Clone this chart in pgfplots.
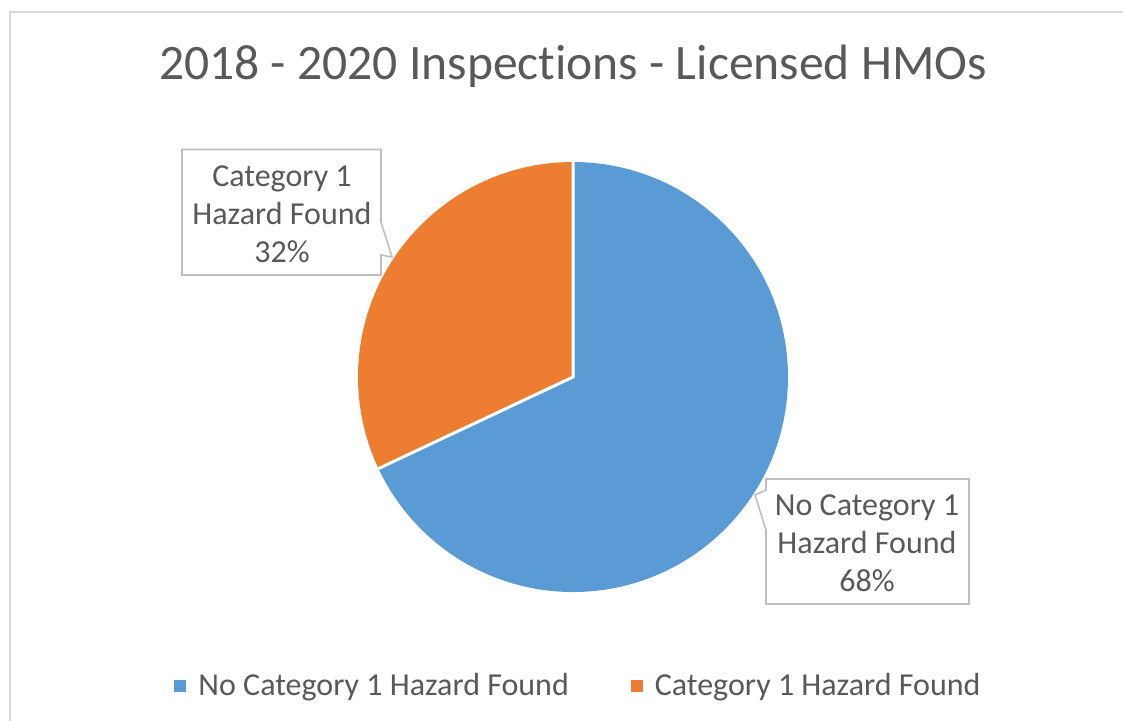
\documentclass[border=0pt]{standalone}
\usepackage{pgfplots}
\usepackage{pgfplotstable}
\pgfplotsset{compat=1.18}
\usepackage{fontspec}
\setmainfont{Carlito}[Ligatures=NoCommon]
\definecolor{pieblue}{HTML}{5B9BD5}
\definecolor{pieorange}{HTML}{ED7D31}
\definecolor{txt}{HTML}{595959}
\definecolor{framec}{HTML}{D9D9D9}
\definecolor{calloutc}{HTML}{BFBFBF}
\pgfplotstableread{
idx value
0 68
1 32
}\piedata
\begin{document}
\begin{tikzpicture}
\pgfplotstablegetelem{0}{value}\of\piedata \edef\va{\pgfplotsretval}
\pgfplotstablegetelem{1}{value}\of\piedata \edef\vb{\pgfplotsretval}
\pgfmathsetmacro\angB{90+3.6*\vb}
\pgfmathsetmacro\angBneg{\angB-360}
\pgfmathsetmacro\cB{cos(\angB)}
\pgfmathsetmacro\sB{sin(\angB)}
\begin{scope}[x=0.5pt,y=-0.5pt]
\useasboundingbox (0,0) rectangle (1123,720);
\fill[white] (0,0) rectangle (1123,720);
\draw[framec, line width=1pt] (9.5,725) -- (9.5,11.5) -- (1130,11.5);
\node[text=txt, anchor=base, inner sep=0pt, font=\fontsize{24.8}{29}\selectfont] at (573,79) {2018 - 2020 Inspections - Licensed HMOs};
\end{scope}
\begin{axis}[at={(286.5pt,-188.5pt)}, anchor=center, scale only axis,
  width=215pt, height=215pt, xmin=-1, xmax=1, ymin=-1, ymax=1,
  hide axis, clip=false,
  legend columns=2,
  legend style={at={(0.515,-0.219)}, anchor=center, draw=none, fill=none,
    font=\fontsize{16}{19}\selectfont, text=txt,
    /tikz/every even column/.append style={column sep=29pt}},
  legend image code/.code={\fill[#1, draw=none] (0pt,-3pt) rectangle (6pt,3pt); \path[draw=none, fill=none] (0pt,0pt) -- (10pt,0pt);},
]
\fill[pieblue] (axis cs:0,0) -- (axis cs:0,1) arc[start angle=90, end angle=\angBneg, radius=107.5pt] -- cycle;
\fill[pieorange] (axis cs:0,0) -- (axis cs:0,1) arc[start angle=90, end angle=\angB, radius=107.5pt] -- cycle;
\draw[white, line width=1.5pt] (axis cs:0,1) -- (axis cs:0,0) -- (axis cs:\cB,\sB);
\addlegendimage{pieblue}
\addlegendimage{pieorange}
\legend{No Category 1 Hazard Found, Category 1 Hazard Found}
\end{axis}
\begin{scope}[x=0.5pt,y=-0.5pt]
\draw[calloutc, line width=0.8pt, fill=white] (182,149.5) -- (381,149.5) -- (381,222) -- (392,257) -- (381,255) -- (381,275) -- (182,275) -- cycle;
\node[text=txt, align=center, inner sep=0pt, font=\fontsize{16}{19}\selectfont] at (282,214) {Category 1\\Hazard Found\\32\%};
\draw[calloutc, line width=0.8pt, fill=white] (766,479) -- (969,479) -- (969,604) -- (766,604) -- (766,530) -- (755,495) -- (766,490) -- cycle;
\node[text=txt, align=center, inner sep=0pt, font=\fontsize{16}{19}\selectfont] at (867,543) {No Category 1\\Hazard Found\\68\%};
\end{scope}
\end{tikzpicture}
\end{document}
